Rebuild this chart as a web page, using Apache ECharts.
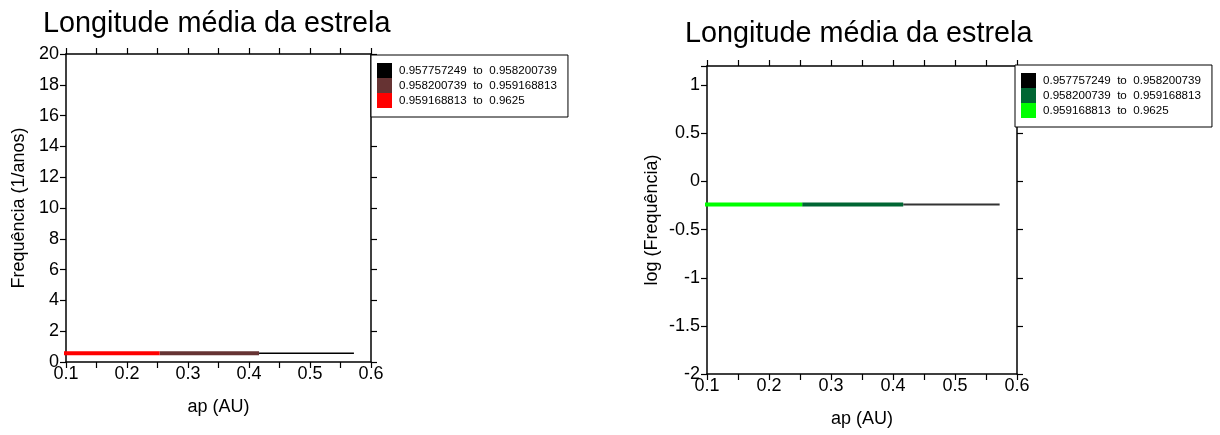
<!DOCTYPE html>
<html>
<head>
<meta charset="utf-8">
<script src="https://cdn.jsdelivr.net/npm/echarts@6/dist/echarts.min.js"></script>
<style>
html, body { margin: 0; padding: 0; background: #fff; }
#main { width: 1220px; height: 435px; }
</style>
</head>
<body>
<div id="main"></div>
<script>
// faixas da legenda (mesmas nos dois graficos)
var legendNames = ['0.957757249  to  0.958200739', '0.958200739  to  0.959168813', '0.959168813  to  0.9625'];
var leftColors = ['#000000', '#663333', '#ff0000'];
var rightColors = ['#000000', '#006633', '#00ff00'];
var lineWidths = [1.5, 4, 4];

// limites de ap (AU) de cada faixa: faixa i vai de segStart[i] a segEnd[i]
var segStart = [0.4165, 0.2535, 0.096];
var segEnd = [0.572, 0.4165, 0.2535];

// valores de frequencia
var freqValues = [0.57, 0.57, 0.57];
var logFreqValues = [-0.24, -0.24, -0.24];

var font = 'Liberation Sans, Arial, sans-serif';

function xAx(grid, pos, labels) {
	return {
		type: 'value', gridIndex: grid, position: pos,
		min: 0.1, max: 0.6, interval: 0.1,
		name: labels ? 'ap (AU)' : '', nameLocation: 'middle', nameGap: 36,
		nameTextStyle: { color: '#000', fontSize: 18, fontFamily: font },
		axisLine: { show: true, onZero: false, lineStyle: { color: '#000', width: 1.5 } },
		axisTick: { show: true, inside: false, length: 6, lineStyle: { color: '#000', width: 1.2 } },
		minorTick: { show: true, splitNumber: 2, length: 6, lineStyle: { color: '#000', width: 1.2 } },
		axisLabel: { show: labels, margin: 3, color: '#000', fontSize: 18, fontFamily: font },
		splitLine: { show: false }
	};
}

function yAx(grid, pos, labels, min, max, interval, name, gap) {
	return {
		type: 'value', gridIndex: grid, position: pos,
		min: min, max: max, interval: interval,
		name: labels ? name : '', nameLocation: 'middle', nameGap: gap,
		nameTextStyle: { color: '#000', fontSize: 18, fontFamily: font },
		axisLine: { show: true, onZero: false, lineStyle: { color: '#000', width: 1.5 } },
		axisTick: { show: true, inside: false, length: 6, lineStyle: { color: '#000', width: 1.2 } },
		axisLabel: {
			show: labels, margin: 7, color: '#000', fontSize: 18, fontFamily: font,
			formatter: function (v) { return v > max - interval / 2 && v % interval !== 0 ? '' : String(v); }
		},
		splitLine: { show: false }
	};
}

var series = [];
for (var i = 0; i < legendNames.length; i++) {
	series.push({
		name: legendNames[i], type: 'line', xAxisIndex: 0, yAxisIndex: 0,
		symbol: 'none', color: leftColors[i],
		lineStyle: { color: leftColors[i], width: lineWidths[i], cap: 'butt' },
		data: [[segStart[i], freqValues[i]], [segEnd[i], freqValues[i]]]
	});
	series.push({
		name: legendNames[i], type: 'line', xAxisIndex: 2, yAxisIndex: 2,
		symbol: 'none', color: rightColors[i],
		lineStyle: { color: i === 0 ? '#333' : rightColors[i], width: i === 0 ? 2 : lineWidths[i], cap: 'butt' },
		data: [[segStart[i], logFreqValues[i]], [segEnd[i], logFreqValues[i]]]
	});
}

function legendFor(left, top, colors) {
	return {
		orient: 'vertical', left: left, top: top,
		itemWidth: 15, itemHeight: 15, itemGap: 0,
		icon: 'rect', selectedMode: false,
		padding: [8, 11, 9, 6],
		borderColor: '#000', borderWidth: 1, backgroundColor: '#fff',
		textStyle: { color: '#000', fontSize: 11.6, fontFamily: font, padding: [0, 0, 0, 2] },
		data: legendNames.map(function (n, k) { return { name: n, itemStyle: { color: colors[k] } }; })
	};
}

var myChart = echarts.init(document.getElementById('main'));
var option = {
	animation: false,
	backgroundColor: '#fff',
	title: [
		{ text: 'Longitude média da estrela', left: 38, top: 5, textStyle: { fontSize: 28.8, fontWeight: 'normal', color: '#000', fontFamily: font } },
		{ text: 'Longitude média da estrela', left: 680, top: 15, textStyle: { fontSize: 28.8, fontWeight: 'normal', color: '#000', fontFamily: font } }
	],
	legend: [legendFor(371, 55, leftColors), legendFor(1015, 65, rightColors)],
	grid: [
		{ left: 66, top: 54, width: 305, height: 308 },
		{ left: 707, top: 66, width: 310, height: 308 }
	],
	xAxis: [xAx(0, 'bottom', true), xAx(0, 'top', false), xAx(1, 'bottom', true), xAx(1, 'top', false)],
	yAxis: [
		yAx(0, 'left', true, 0, 20, 2, 'Frequência (1/anos)', 38),
		yAx(0, 'right', false, 0, 20, 2, '', 0),
		yAx(1, 'left', true, -2, 1.2, 0.5, 'log (Frequência)', 46),
		yAx(1, 'right', false, -2, 1.2, 0.5, '', 0)
	],
	series: series
};
myChart.setOption(option);
</script>
</body>
</html>
